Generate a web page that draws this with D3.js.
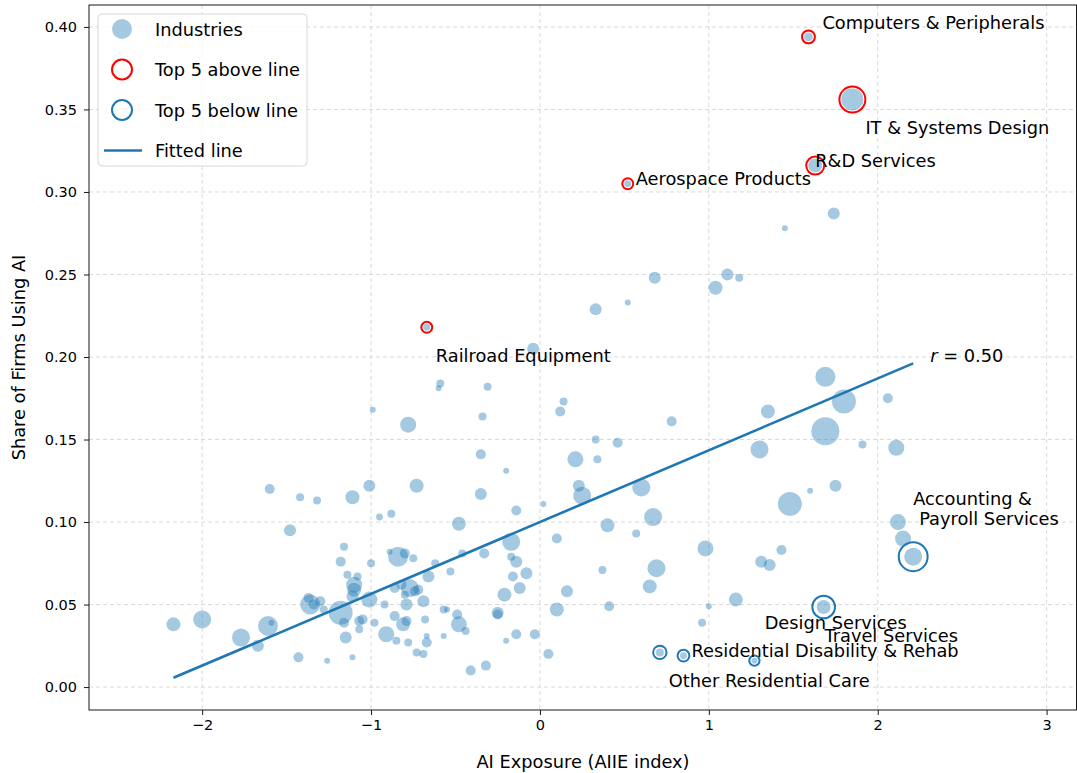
<!DOCTYPE html>
<html>
<head>
<meta charset="utf-8">
<script src="https://cdn.jsdelivr.net/npm/d3@7"></script>
<style>
  body { margin: 0; background: #fff; }
  text { font-family: "DejaVu Sans", sans-serif; fill: #000; }
</style>
</head>
<body>
<div id="chart"></div>
<script>
// Industries: AI exposure, share of firms using AI, marker weight (area)
const exposure = [-2.17, -2.00, -1.77, -1.67, -1.61, -1.59, -1.60, -1.48, -1.43, -1.42,
  -1.32, -1.26, -1.11, -1.11, -1.16, -1.18, -1.00, -0.95, -0.88, -1.14,
  -1.08, -1.10, -1.10, -1.11, -1.01, -1.37, -1.36, -1.34, -1.30, -1.28,
  -1.18, -1.16, -1.07, -1.05, -1.07, -0.98, -1.15, -0.92, -0.91, -0.85,
  -0.86, -0.79, -0.81, -0.78, -0.68, -0.67, -0.67, -0.73, -0.69, -0.57,
  -0.89, -0.84, -0.80, -0.75, -0.62, -0.86, -0.82, -0.77, -0.80, -0.74,
  -0.72, -0.69, -0.79, -0.66, -0.57, -0.55, -0.53, -0.46, -0.49, -0.48,
  -0.44, -0.33, -0.17, -0.17, -0.14, -0.08, -0.16, -0.12, -0.21, -0.25,
  -0.25, -0.20, -0.14, -0.03, 0.05, -0.41, -0.32, 0.10, 0.16, 0.10,
  0.02, -0.14, -0.48, -0.35, -0.20, -0.35, -0.34, -0.31, -0.59, -0.60,
  -0.99, -0.78, -0.73, -1.01, -0.04, 0.33, 0.52, 0.68, 1.04, 1.11,
  1.18, 1.45, 1.74, 0.14, 0.12, 0.33, 0.46, 0.21, 0.34, 0.78,
  0.23, 0.25, 0.60, 0.67, 0.40, 0.57, 0.98, 0.37, 0.69, 0.65,
  0.41, 1.16, 1.00, 0.96, 1.35, 1.69, 1.80, 1.69, 2.06, 1.30,
  1.91, 2.11, 1.48, 1.60, 1.75, 2.12, 2.15, 1.31, 1.36, 1.43];
const aiShare = [0.038, 0.041, 0.030, 0.025, 0.037, 0.039, 0.120, 0.095, 0.018, 0.115,
  0.113, 0.016, 0.115, 0.018, 0.085, 0.076, 0.075, 0.103, 0.105, 0.068,
  0.067, 0.062, 0.059, 0.055, 0.053, 0.054, 0.050, 0.050, 0.052, 0.047,
  0.045, 0.039, 0.040, 0.041, 0.035, 0.039, 0.030, 0.050, 0.032, 0.028,
  0.043, 0.040, 0.038, 0.027, 0.041, 0.027, 0.031, 0.021, 0.020, 0.031,
  0.082, 0.079, 0.081, 0.078, 0.075, 0.060, 0.062, 0.060, 0.056, 0.058,
  0.059, 0.052, 0.050, 0.067, 0.047, 0.047, 0.070, 0.081, 0.044, 0.038,
  0.034, 0.081, 0.088, 0.079, 0.076, 0.069, 0.067, 0.060, 0.056, 0.045,
  0.044, 0.028, 0.032, 0.032, 0.020, 0.010, 0.013, 0.047, 0.058, 0.090,
  0.111, 0.107, 0.099, 0.117, 0.131, 0.141, 0.164, 0.182, 0.184, 0.181,
  0.168, 0.159, 0.122, 0.122, 0.205, 0.229, 0.233, 0.248, 0.242, 0.250,
  0.248, 0.278, 0.287, 0.173, 0.167, 0.150, 0.148, 0.138, 0.138, 0.161,
  0.122, 0.116, 0.121, 0.103, 0.098, 0.093, 0.084, 0.071, 0.072, 0.061,
  0.049, 0.053, 0.049, 0.039, 0.167, 0.188, 0.173, 0.155, 0.175, 0.144,
  0.147, 0.145, 0.111, 0.119, 0.122, 0.100, 0.090, 0.076, 0.074, 0.083];
const weight = [49, 81, 81, 36, 100, 9, 25, 36, 25, 16,
  16, 9, 49, 9, 16, 25, 16, 12, 16, 16,
  16, 64, 49, 36, 64, 25, 100, 25, 25, 16,
  144, 25, 25, 25, 16, 16, 36, 16, 64, 16,
  25, 25, 49, 16, 16, 25, 9, 16, 16, 9,
  9, 100, 25, 16, 16, 25, 25, 81, 16, 25,
  25, 36, 36, 36, 16, 9, 16, 16, 25, 64,
  16, 25, 81, 16, 36, 36, 25, 36, 49, 36,
  25, 9, 25, 25, 25, 25, 25, 49, 36, 25,
  9, 25, 49, 36, 9, 25, 16, 16, 16, 9,
  9, 64, 49, 36, 36, 36, 9, 36, 49, 36,
  16, 9, 36, 16, 25, 16, 25, 64, 16, 25,
  36, 81, 81, 81, 49, 16, 64, 16, 81, 49,
  25, 49, 9, 16, 49, 100, 144, 196, 25, 81,
  16, 64, 144, 9, 36, 64, 64, 36, 36, 25];

// Highlighted industries (furthest from fitted line)
const hlNames = ["Computers & Peripherals", "IT & Systems Design", "R&D Services",
  "Aerospace Products", "Railroad Equipment",
  "Accounting &\nPayroll Services", "Design Services", "Travel Services",
  "Residential Disability & Rehab", "Other Residential Care"];
const hlExposure = [1.59, 1.85, 1.63, 0.52, -0.67, 2.21, 1.68, 1.27, 0.85, 0.71];
const hlShare = [0.394, 0.356, 0.316, 0.305, 0.218, 0.079, 0.0485, 0.016, 0.019, 0.021];
const hlWeight = [20, 121, 49, 12, 12, 81, 49, 9, 12, 16];
const hlGroup = ["above", "above", "above", "above", "above", "below", "below", "below", "below", "below"];

// Fitted line and correlation
const fitIntercept = 0.100;
const fitSlope = 0.0435;
const rValue = "0.50";

const xTicks = [-2, -1, 0, 1, 2, 3];
const yTicks = [0, 0.05, 0.10, 0.15, 0.20, 0.25, 0.30, 0.35, 0.40];

// label offsets in px from the point (layout only)
const labelOffsets = [[14, -14], [13, 28], [0, -5], [8, -5], [9, 28],
  [[0, -58], [6, -38]], [-59, 15], [70, -25], [8, -5], [9, 28]];

const W = 1077, H = 773;
const margin = { top: 5, right: 0, bottom: 63, left: 89 };
const width = W - margin.left - margin.right;
const height = H - margin.top - margin.bottom;
const fs = "17.8px";

const svg = d3.select("#chart").append("svg")
  .attr("width", W).attr("height", H);
const g = svg.append("g").attr("transform", `translate(${margin.left},${margin.top})`);

const x = d3.scaleLinear().domain([-2.67, 3.18]).range([0, width]);
const y = d3.scaleLinear().domain([-0.0139, 0.4133]).range([height, 0]);
const rScale = d3.scaleSqrt().domain([0, 196]).range([0, 14]);

const blue = "#1f77b4";
const fmtMinus = v => (v < 0 ? "\u2212" + Math.abs(v) : String(v));

// grid
const grid = g.append("g").attr("stroke", "#cfcfcf").attr("stroke-width", 0.8)
  .attr("stroke-dasharray", "4,3");
xTicks.forEach(t => grid.append("line")
  .attr("x1", x(t)).attr("x2", x(t)).attr("y1", 0).attr("y2", height));
yTicks.forEach(t => grid.append("line")
  .attr("x1", 0).attr("x2", width).attr("y1", y(t)).attr("y2", y(t)));

// axes
const xAxis = g.append("g").attr("transform", `translate(0,${height})`)
  .call(d3.axisBottom(x).tickValues(xTicks).tickFormat(fmtMinus).tickSize(5).tickPadding(5));
const yAxis = g.append("g")
  .call(d3.axisLeft(y).tickValues(yTicks).tickFormat(d3.format(".2f")).tickSize(5).tickPadding(7));
[xAxis, yAxis].forEach(a => {
  a.select(".domain").remove();
  a.selectAll("text").style("font-size", "14.5px").style("font-family", "DejaVu Sans");
  a.selectAll("line").attr("stroke", "#000").attr("stroke-width", 0.9);
});

// points
const pts = exposure.map((d, i) => ({ x: d, y: aiShare[i], w: weight[i] }));
g.append("g").selectAll("circle").data(pts).enter().append("circle")
  .attr("cx", d => x(d.x)).attr("cy", d => y(d.y)).attr("r", d => rScale(d.w))
  .attr("fill", blue).attr("fill-opacity", 0.4);

const hl = hlNames.map((n, i) => ({ name: n, x: hlExposure[i], y: hlShare[i], w: hlWeight[i], grp: hlGroup[i], off: labelOffsets[i] }));
g.append("g").selectAll("circle").data(hl).enter().append("circle")
  .attr("cx", d => x(d.x)).attr("cy", d => y(d.y)).attr("r", d => rScale(d.w))
  .attr("fill", blue).attr("fill-opacity", 0.4);

// fitted line
const allX = exposure.concat(hlExposure);
const xr = d3.extent(allX);
g.append("line")
  .attr("x1", x(xr[0])).attr("y1", y(fitIntercept + fitSlope * xr[0]))
  .attr("x2", x(xr[1])).attr("y2", y(fitIntercept + fitSlope * xr[1]))
  .attr("stroke", blue).attr("stroke-width", 2.6);

// rings
g.append("g").selectAll("circle").data(hl).enter().append("circle")
  .attr("cx", d => x(d.x)).attr("cy", d => y(d.y))
  .attr("r", d => d.grp === "above" ? rScale(d.w) + 2 : rScale(d.w) * 1.55 + 0.5)
  .attr("fill", "none").attr("stroke", d => d.grp === "above" ? "red" : blue)
  .attr("stroke-width", 2);

// labels
hl.forEach(d => {
  const lines = d.name.split("\n");
  const offs = lines.length > 1 ? d.off : [d.off];
  lines.forEach((ln, j) => {
    g.append("text")
      .attr("x", x(d.x) + offs[j][0]).attr("y", y(d.y) + offs[j][1])
      .attr("dominant-baseline", "central")
      .style("font-size", fs)
      .text(ln);
  });
});

// r annotation
const rt = g.append("text")
  .attr("x", x(xr[1]) + 17).attr("y", y(fitIntercept + fitSlope * xr[1]) - 8)
  .attr("dominant-baseline", "central").style("font-size", fs);
rt.append("tspan").style("font-style", "italic").text("r");
rt.append("tspan").text(" = " + rValue);

// frame
g.append("rect").attr("x", 0).attr("y", 0).attr("width", width - 0.5).attr("height", height)
  .attr("fill", "none").attr("stroke", "#000").attr("stroke-width", 0.9);

// axis labels
svg.append("text").attr("x", margin.left + width / 2).attr("y", 761)
  .attr("text-anchor", "middle").attr("dominant-baseline", "central")
  .style("font-size", fs).text("AI Exposure (AIIE index)");
svg.append("text").attr("transform", `translate(18,${margin.top + height / 2}) rotate(-90)`)
  .attr("text-anchor", "middle").attr("dominant-baseline", "central")
  .style("font-size", fs).text("Share of Firms Using AI");

// legend
const lg = svg.append("g").attr("transform", "translate(98,14)");
lg.append("rect").attr("width", 209).attr("height", 152).attr("rx", 4)
  .attr("fill", "#fff").attr("fill-opacity", 0.8).attr("stroke", "#d8d8d8");
const items = ["Industries", "Top 5 above line", "Top 5 below line", "Fitted line"];
items.forEach((t, i) => {
  const cy = 15 + i * 40.5;
  if (i === 0) lg.append("circle").attr("cx", 24).attr("cy", cy).attr("r", 10)
    .attr("fill", blue).attr("fill-opacity", 0.4);
  if (i === 1 || i === 2) lg.append("circle").attr("cx", 24).attr("cy", cy).attr("r", 10)
    .attr("fill", "none").attr("stroke", i === 1 ? "red" : blue).attr("stroke-width", 2);
  if (i === 3) lg.append("line").attr("x1", 6).attr("x2", 44).attr("y1", cy).attr("y2", cy)
    .attr("stroke", blue).attr("stroke-width", 2.5);
  lg.append("text").attr("x", 57).attr("y", cy).attr("dominant-baseline", "central")
    .style("font-size", fs).text(t);
});
</script>
</body>
</html>
